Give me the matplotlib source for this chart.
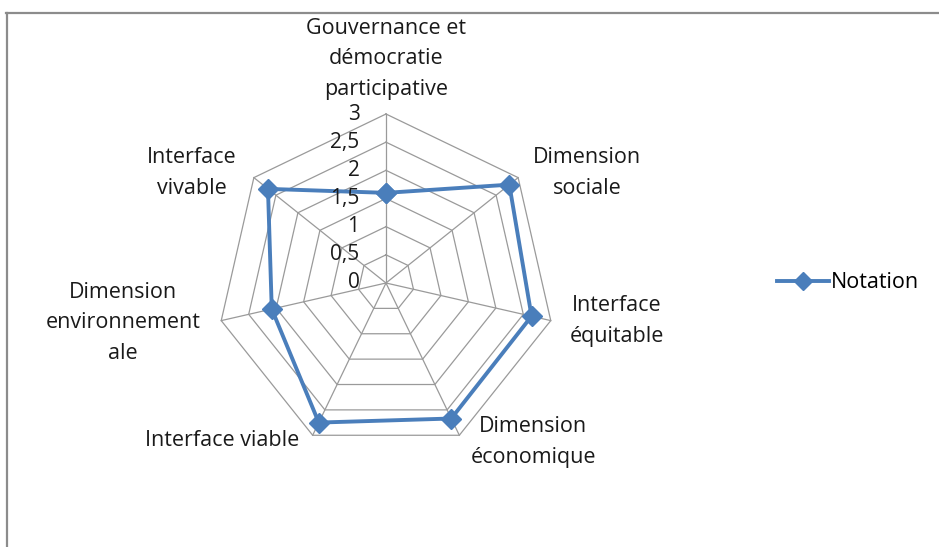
import numpy as np
import matplotlib.pyplot as plt
from matplotlib.lines import Line2D

categories = ["Gouvernance et\ndémocratie\nparticipative", "Dimension\nsociale",
              "Interface\néquitable", "Dimension\néconomique", "Interface viable",
              "Dimension\nenvironnement\nale", "Interface\nvivable"]
notation = [1.6, 2.8, 2.65, 2.67, 2.75, 2.08, 2.68]
ticks = [0, 0.5, 1, 1.5, 2, 2.5, 3]
tick_labels = ["0", "0,5", "1", "1,5", "2", "2,5", "3"]

W, H = 939, 547
cx, cy = 386, 283          # centre of the web, pixels from top-left
rpx = 169                  # pixels for value 3
unit = rpx / 3.0

plt.rcParams['font.family'] = ['Open Sans', 'DejaVu Sans']
fig = plt.figure(figsize=(W / 100, H / 100), dpi=100)
ax = fig.add_axes([0, 0, 1, 1])
ax.set_xlim(-cx / unit, (W - cx) / unit)
ax.set_ylim(-(H - cy) / unit, cy / unit)
ax.axis('off')

n = len(categories)
ang = np.arange(n) * 2 * np.pi / n
sx, sy = np.sin(ang), np.cos(ang)
grid_c = '#9a9a9a'

# web rings
for t in ticks[1:]:
    ax.plot(np.append(t * sx, t * sx[0]), np.append(t * sy, t * sy[0]),
            color=grid_c, lw=0.9, zorder=1)
# spokes
for i in range(n):
    ax.plot([0, 3 * sx[i]], [0, 3 * sy[i]], color=grid_c, lw=0.9, zorder=1)

# series
vals = np.array(notation)
ax.plot(np.append(vals * sx, vals[0] * sx[0]), np.append(vals * sy, vals[0] * sy[0]),
        color='#4a7ebb', lw=2.8, marker='D', ms=10, mfc='#4a7ebb', mec='#4a7ebb',
        zorder=3, solid_joinstyle='miter')

# value labels
for t, lab in zip(ticks, tick_labels):
    ax.text(-0.47, t, lab, ha='right', va='center', fontsize=15, color='#1a1a1a')

# category labels (pixel positions of label centres)
lab_pos = [(386, 59), (587, 173), (617, 321), (533, 442), (222, 441),
           (123, 323), (192, 173)]
for lab, (px, py) in zip(categories, lab_pos):
    ax.text((px - cx) / unit, (cy - py) / unit, lab, ha='center', va='center',
            fontsize=15.5, color='#1a1a1a', linespacing=1.6)

# legend
leg_h = [Line2D([], [], color='#4a7ebb', lw=2.8, marker='D', ms=9)]
fig.legend(leg_h, ['Notation'], loc='center left', bbox_to_anchor=(758 / W, 1 - 283 / H),
           frameon=False, fontsize=15.5, handlelength=2.4, handletextpad=0.1)

# chart frame
fig.add_artist(Line2D([6 / W, 1], [1 - 13 / H, 1 - 13 / H], color='#8c8c8c', lw=1.6))
fig.add_artist(Line2D([7 / W, 7 / W], [0, 1 - 13 / H], color='#8c8c8c', lw=1.6))

fig.savefig('out.png', dpi=100)
